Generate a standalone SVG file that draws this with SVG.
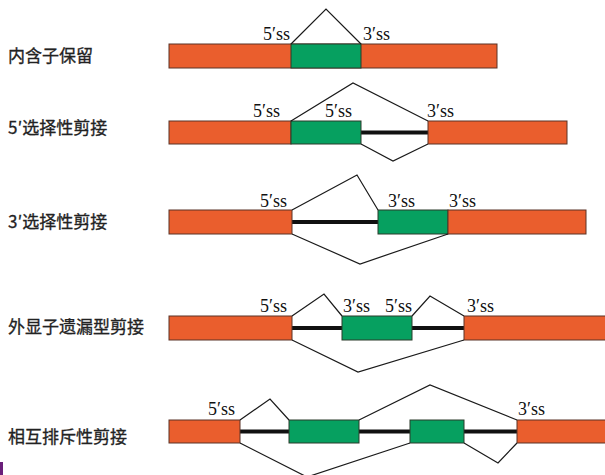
<svg xmlns="http://www.w3.org/2000/svg" width="605" height="475" viewBox="0 0 605 475">
<style>
.ex{fill:#EA5E2D;stroke:#5a3326;stroke-width:1}
.alt{fill:#06A060;stroke:#2a3a2a;stroke-width:1}
.intron{stroke:#111;stroke-width:4;fill:none}
.sp{stroke:#1a1a1a;stroke-width:1.2;fill:none;stroke-linejoin:miter}
.lab{font-family:"Noto Sans CJK SC","Noto Sans",sans-serif;font-size:17px;fill:#222;stroke:#222;stroke-width:0.3}
.ss{font-family:"Liberation Serif","Times New Roman",serif;font-size:18px;fill:#111}
</style>
<rect width="605" height="475" fill="#fff"/>
<rect x="0" y="462" width="3" height="13" fill="#6a1f7a"/>

<g id="row1">
<text class="lab" x="8" y="62">内含子保留</text>
<rect class="ex" x="169" y="44" width="328" height="24"/>
<rect class="alt" x="291" y="44" width="70" height="24"/>
<text class="ss" x="263" y="40">5′ss</text>
<text class="ss" x="363" y="40">3′ss</text>
</g>

<g id="row2">
<text class="lab" x="8" y="134">5′选择性剪接</text>
<line class="intron" x1="361" y1="132.5" x2="428" y2="132.5"/>
<rect class="ex" x="169" y="121" width="122" height="23"/>
<rect class="alt" x="291" y="121" width="70" height="23"/>
<rect class="ex" x="428" y="121" width="139" height="23"/>
<text class="ss" x="253" y="117">5′ss</text>
<text class="ss" x="325" y="117">5′ss</text>
<text class="ss" x="427" y="117">3′ss</text>
</g>

<g id="row3">
<text class="lab" x="8" y="228">3′选择性剪接</text>
<line class="intron" x1="292" y1="222" x2="378" y2="222"/>
<rect class="ex" x="169" y="210" width="123" height="24"/>
<rect class="alt" x="378" y="210" width="70" height="24"/>
<rect class="ex" x="448" y="210" width="138" height="24"/>
<text class="ss" x="260" y="207">5′ss</text>
<text class="ss" x="388" y="207">3′ss</text>
<text class="ss" x="449" y="207">3′ss</text>
</g>

<g id="row4">
<text class="lab" x="8" y="333">外显子遗漏型剪接</text>
<line class="intron" x1="292" y1="328" x2="342" y2="328"/>
<line class="intron" x1="412" y1="328" x2="464" y2="328"/>
<rect class="ex" x="169" y="316" width="123" height="24"/>
<rect class="alt" x="342" y="316" width="70" height="24"/>
<rect class="ex" x="464" y="316" width="143" height="24"/>
<text class="ss" x="260" y="312">5′ss</text>
<text class="ss" x="343" y="312">3′ss</text>
<text class="ss" x="385" y="312">5′ss</text>
<text class="ss" x="467" y="312">3′ss</text>
</g>

<g id="row5">
<text class="lab" x="8" y="443">相互排斥性剪接</text>
<line class="intron" x1="240" y1="431.5" x2="517" y2="431.5"/>
<rect class="ex" x="169" y="420" width="71" height="23"/>
<rect class="alt" x="289" y="420" width="70" height="23"/>
<rect class="alt" x="410" y="420" width="54" height="23"/>
<rect class="ex" x="517" y="420" width="92" height="23"/>
<text class="ss" x="208" y="415">5′ss</text>
<text class="ss" x="518" y="415">3′ss</text>
</g>

<g id="connectors">
<polyline class="sp" points="291,44 326,9 361,44"/>
<polyline class="sp" points="291,121 353,83 428,121"/>
<polyline class="sp" points="361,144 393,161 428,144"/>
<polyline class="sp" points="292,210 357,175 378,210"/>
<polyline class="sp" points="292,234 360,264 448,234"/>
<polyline class="sp" points="292,316 324,294 342,316"/>
<polyline class="sp" points="412,316 430,296 464,316"/>
<polyline class="sp" points="292,340 358,372 464,340"/>
<polyline class="sp" points="240,420 270,399 289,420"/>
<polyline class="sp" points="359,420 430,385 517,420"/>
<polyline class="sp" points="240,443 307,477 410,443"/>
<polyline class="sp" points="464,443 498,463 517,443"/>
</g>
</svg>
